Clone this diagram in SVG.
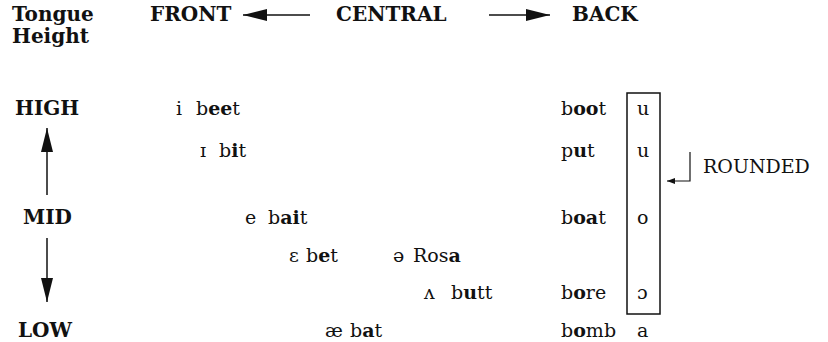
<svg xmlns="http://www.w3.org/2000/svg" width="828" height="342" viewBox="0 0 828 342">
  <style>
    text { font-family: "DejaVu Serif", "Liberation Serif", "Times New Roman", Times, serif; fill: #111; }
    .hd { font-size: 20px; font-weight: bold; }
    .w { font-size: 19px; }
    .b { font-weight: bold; }
    .ln { stroke: #111; stroke-width: 1.5; fill: none; }
    .thin { stroke: #111; stroke-width: 1.2; fill: none; }
  </style>
  <defs>
    <marker id="head" viewBox="0 0 24 12" refX="24" refY="6" markerWidth="24" markerHeight="12" markerUnits="userSpaceOnUse" orient="auto">
      <path d="M0,0 L24,6 L0,12 z" fill="#111"/>
    </marker>
    <marker id="small" viewBox="0 0 8 6" refX="8" refY="3" markerWidth="8" markerHeight="6" markerUnits="userSpaceOnUse" orient="auto">
      <path d="M0,0 L8,3 L0,6 z" fill="#111"/>
    </marker>
  </defs>

  <!-- axis labels -->
  <g id="tongue-height">
    <text class="hd" x="12" y="21">Tongue</text>
    <text class="hd" x="12" y="43">Height</text>
  </g>
  <g id="front"><text class="hd" x="150" y="21">FRONT</text></g>
  <g id="central"><text class="hd" x="336" y="21">CENTRAL</text></g>
  <g id="back"><text class="hd" x="572" y="21">BACK</text></g>
  <g id="high"><text class="hd" x="15" y="115">HIGH</text></g>
  <g id="mid"><text class="hd" x="23" y="224">MID</text></g>
  <g id="low"><text class="hd" x="18" y="337">LOW</text></g>

  <!-- front and central vowels -->
  <g id="v-i"><text class="w" x="176" y="115">i</text><text class="w" x="196" y="115">b<tspan class="b">ee</tspan>t</text></g>
  <g id="v-I"><text class="w" x="200" y="157">ɪ</text><text class="w" x="219" y="157">b<tspan class="b">i</tspan>t</text></g>
  <g id="v-e"><text class="w" x="245" y="224">e</text><text class="w" x="268" y="224">b<tspan class="b">ai</tspan>t</text></g>
  <g id="v-eps"><text class="w" x="289" y="262">ɛ</text><text class="w" x="306" y="262">b<tspan class="b">e</tspan>t</text></g>
  <g id="v-schwa"><text class="w" x="393" y="262">ə</text><text class="w" x="413" y="262">Ros<tspan class="b">a</tspan></text></g>
  <g id="v-wedge"><text class="w" x="424" y="299">ʌ</text><text class="w" x="451" y="299">b<tspan class="b">u</tspan>tt</text></g>
  <g id="v-ae"><text class="w" x="325" y="337">æ</text><text class="w" x="350" y="337">b<tspan class="b">a</tspan>t</text></g>

  <!-- back vowels -->
  <g id="v-u"><text class="w" x="561" y="115">b<tspan class="b">oo</tspan>t</text><text class="w" x="637" y="115">u</text></g>
  <g id="v-U"><text class="w" x="561" y="157">p<tspan class="b">u</tspan>t</text><text class="w" x="637" y="157">u</text></g>
  <g id="v-o"><text class="w" x="561" y="224">b<tspan class="b">oa</tspan>t</text><text class="w" x="637" y="224">o</text></g>
  <g id="v-open-o"><text class="w" x="561" y="299">b<tspan class="b">o</tspan>re</text><text class="w" x="637" y="299">ɔ</text></g>
  <g id="v-a"><text class="w" x="561" y="337">b<tspan class="b">o</tspan>mb</text><text class="w" x="637" y="337">a</text></g>

  <!-- rounded group -->
  <g id="rounded">
    <rect class="ln" x="627" y="93" width="33" height="221"/>
    <text class="w" x="703" y="173">ROUNDED</text>
  </g>

  <g id="connectors">
    <line class="ln" x1="310" y1="15" x2="243" y2="15" marker-end="url(#head)"/>
    <line class="ln" x1="489" y1="15" x2="550" y2="15" marker-end="url(#head)"/>
    <line class="ln" x1="47" y1="195" x2="47" y2="128" marker-end="url(#head)"/>
    <line class="ln" x1="47" y1="238" x2="47" y2="302" marker-end="url(#head)"/>
    <path class="thin" d="M690,152 L690,181 L667,181" marker-end="url(#small)"/>
  </g>
</svg>
